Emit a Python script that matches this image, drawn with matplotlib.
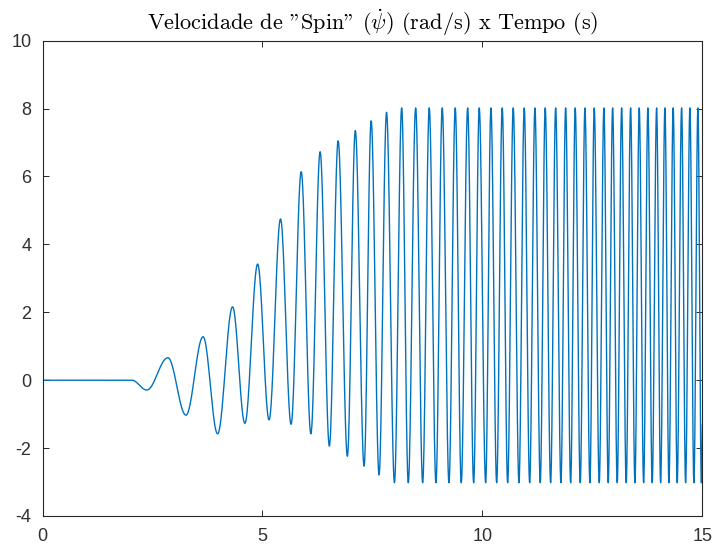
import numpy as np
import matplotlib
matplotlib.use("Agg")
import matplotlib.pyplot as plt

# ---- data (extrema of the signal) ----
# start of response (flat zero before)
t_flat = [0.0, 2.03]
v_flat = [0.0, 0.0]

# successive extrema (alternating trough/peak), time (s) and value (rad/s)
t_ext = [2.37, 2.85, 3.26, 3.65, 3.98, 4.32, 4.60, 4.89, 5.15, 5.41,
         5.65, 5.88, 6.10, 6.31, 6.52, 6.72, 6.93, 7.11, 7.31, 7.47,
         7.65, 7.82, 8.00, 8.164, 8.314, 8.482, 8.641, 8.791, 8.943, 9.086,
         9.239, 9.382, 9.518, 9.664, 9.800, 9.927, 10.073, 10.193, 10.323, 10.450,
         10.573, 10.700, 10.830, 10.950, 11.073, 11.193, 11.314, 11.427, 11.550, 11.664,
         11.784, 11.891, 12.005, 12.109, 12.223, 12.330, 12.443, 12.541, 12.655, 12.761,
         12.859, 12.959, 13.064, 13.164, 13.268, 13.368, 13.466, 13.564, 13.664, 13.761,
         13.859, 13.959, 14.050, 14.148, 14.239, 14.336, 14.427, 14.527, 14.618, 14.716,
         14.807, 14.898, 14.977]
v_ext = [-0.29, 0.66, -1.03, 1.28, -1.58, 2.16, -1.27, 3.42, -1.17, 4.75,
         -1.30, 6.14, -1.58, 6.73, -1.94, 7.05, -2.24, 7.35, -2.53, 7.64,
         -2.79, 7.89, -3.02, 8.02, -3.02, 8.02, -3.02, 8.02, -3.02, 8.02,
         -3.02, 8.02, -3.02, 8.02, -3.02, 8.02, -3.02, 8.02, -3.02, 8.02,
         -3.02, 8.02, -3.02, 8.02, -3.02, 8.02, -3.02, 8.02, -3.02, 8.02,
         -3.02, 8.02, -3.02, 8.02, -3.02, 8.02, -3.02, 8.02, -3.02, 8.02,
         -3.02, 8.02, -3.02, 8.02, -3.02, 8.02, -3.02, 8.02, -3.02, 8.02,
         -3.02, 8.02, -3.02, 8.02, -3.02, 8.02, -3.02, 8.02, -3.02, 8.02,
         -3.02, 8.02, -3.02]
# final sample at the end of the simulation
t_end = [15.0]
v_end = [-1.3]

x_ticks = [0, 5, 10, 15]
y_ticks = [-4, -2, 0, 2, 4, 6, 8, 10]
# in cmr10 the '"' code point holds the closing double quote glyph (as in LaTeX)
title = 'Velocidade de "Spin" ($\\dot{\\psi}$) (rad/s) x Tempo (s)'

# ---- build the drawn curve: half-cosine shape between consecutive extrema ----
knots_t = t_flat + t_ext
knots_v = v_flat + v_ext
xs, ys = [np.array(t_flat[:1])], [np.array(v_flat[:1])]
for i in range(1, len(knots_t)):
    s = np.linspace(0, 1, 40)[1:]
    w = 0.5 - 0.5 * np.cos(np.pi * s) if i > 1 else s
    xs.append(knots_t[i - 1] + (knots_t[i] - knots_t[i - 1]) * s)
    ys.append(knots_v[i - 1] + (knots_v[i] - knots_v[i - 1]) * w)
# last partial rise after final trough
s = np.linspace(0, 1, 10)[1:]
xs.append(t_ext[-1] + (t_end[0] - t_ext[-1]) * s)
ys.append(v_ext[-1] + (v_end[0] - v_ext[-1]) * (1 - np.cos(np.pi / 2 * s)))
x = np.concatenate(xs)
y = np.concatenate(ys)

plt.rcParams['mathtext.fontset'] = 'cm'
plt.rcParams['font.family'] = ['Liberation Sans', 'DejaVu Sans']
plt.rcParams['axes.unicode_minus'] = False

fig = plt.figure(figsize=(7.16, 5.44), dpi=100)
ax = fig.add_axes([0.0594, 0.0515, 0.9216, 0.8737])
ax.plot(x, y, color='#0072BD', lw=1.0)
ax.set_xlim(0, 15)
ax.set_ylim(-4, 10)
ax.set_xticks(x_ticks)
ax.set_yticks(y_ticks)
ax.tick_params(direction='in', top=True, right=True, length=4, width=0.7,
               colors='#262626', labelsize=13, labelcolor='#303030')
ax.tick_params(axis='y', pad=8)
ax.tick_params(axis='x', pad=9)
for sp in ax.spines.values():
    sp.set_color('#262626')
    sp.set_linewidth(0.8)
ax.set_title(title, fontsize=16, color='#000000', pad=8, fontfamily='cmr10')
fig.savefig('out.png', dpi=100)
